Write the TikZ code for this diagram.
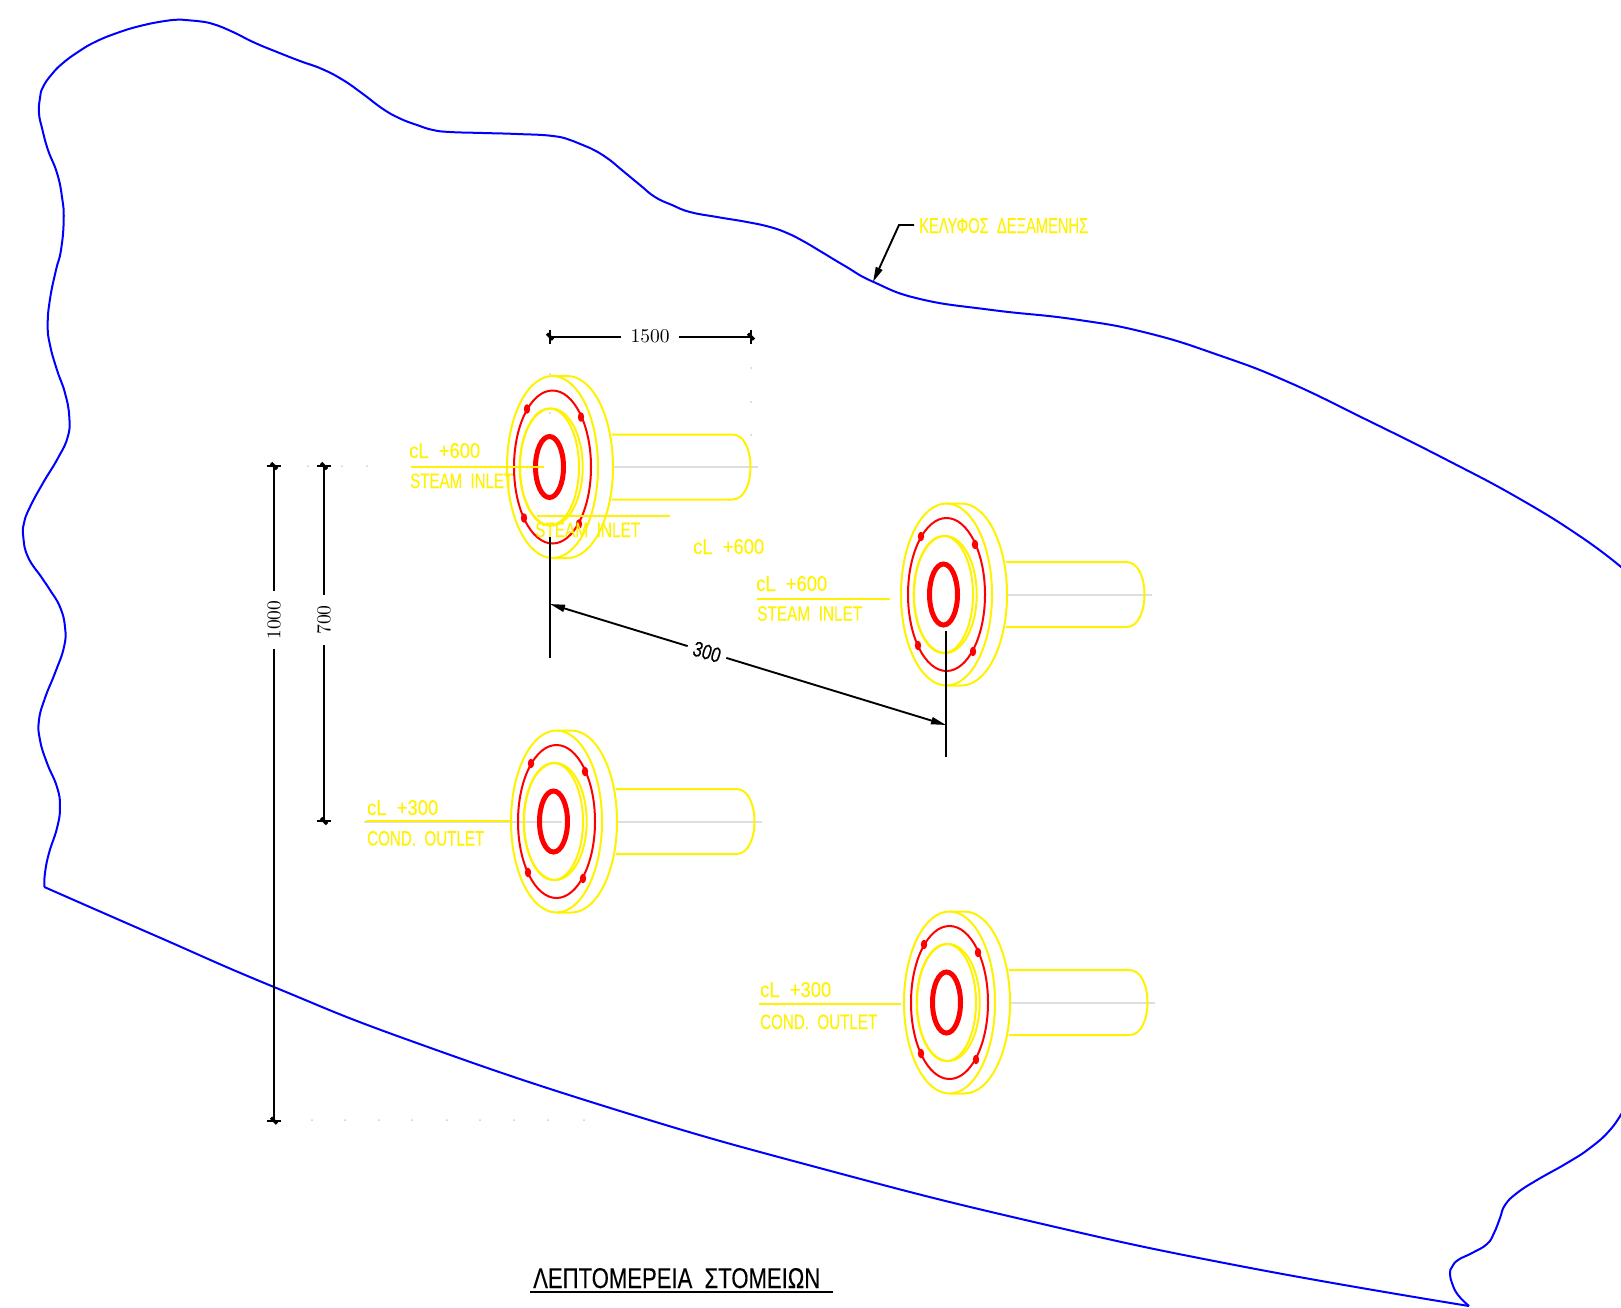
\documentclass[tikz,border=0pt]{standalone}
\usepackage{fontspec}
\usepackage{graphicx}
\usetikzlibrary{arrows.meta}
\newfontfamily\cadfont[FakeBold=0.25]{Liberation Sans}
\tikzset{
  cadyellow/.style={draw=yellow,line width=2pt},
  cadred/.style={draw=red,line width=2pt},
  cadredthick/.style={draw=red,line width=5pt},
  cadblue/.style={draw=blue,line width=2pt},
  cadblack/.style={draw=black,line width=1.9pt},
  cadaxis/.style={draw=black!13,line width=2pt},
  dimtext/.style={inner ysep=2pt},
  cadlabel/.style={anchor=base west,inner sep=0pt},
  dimarrow/.style={cadblack,-{Stealth[length=15pt,width=7pt,inset=0pt]}},
}
% name, x, baseline y, width, height, text, colour
\newcommand\cadtext[7]{\node[cadlabel,text=#7] (#1) at (#2,#3) {\resizebox{#4pt}{#5pt}{\cadfont #6}};}
\newcommand\dimlabel[2]{\resizebox{#1pt}{!}{\fontsize{10}{12}\selectfont #2}}
\newcommand\flange[2]{%
\begin{scope}[shift={(#1,#2)}]
  \draw[cadaxis] (60,0) -- (205,0);
  \draw[cadyellow] (0,0) ellipse [x radius=45.5,y radius=91];
  \draw[cadyellow] (0,-91) -- (15,-91) arc[start angle=-90,end angle=90,x radius=45.5,y radius=91] -- (0,91);
  \draw[cadyellow] (59.5,-32.5) -- (180,-32.5) .. controls (192,-32.5) and (198,-16) .. (198,0) .. controls (198,16) and (192,32.5) .. (180,32.5) -- (59.5,32.5);
  \draw[cadyellow] (-3,0) ellipse [x radius=29.5,y radius=58.5];
  \draw[cadyellow] (-1.3,0) ellipse [x radius=31.5,y radius=58.5];
  \draw[cadred] (0,0) ellipse [x radius=38.5,y radius=76.5];
  \draw[cadredthick] (-3,0) ellipse [x radius=14,y radius=30.5];
  \foreach \bx/\by in {-25.5/-58,28.5/-50,-28.5/51,26.5/57}
    \draw[draw=red,fill=red,line width=1pt] (\bx,\by) ellipse [x radius=2.6,y radius=4.2];
\end{scope}}
\newcommand\dtick[2]{%
  \draw[cadblack] (#1-7,#2) -- (#1+7,#2);
  \draw[draw=black,line width=3.2pt] (#1-3,#2-3) -- (#1+3,#2+3);}
\newcommand\vtick[2]{%
  \draw[cadblack] (#1,#2-7) -- (#1,#2+7);
  \draw[draw=black,line width=3.2pt] (#1-3,#2-3) -- (#1+3,#2+3);}
\begin{document}
\begin{tikzpicture}[x=1pt,y=-1pt]
\useasboundingbox (0,0) rectangle (1621,1307);
\clip (0,0) rectangle (1621,1307);
% faint construction dots
\foreach \dx/\dy in {308/466,342/466,367/466,312/1120,345/1120,379/1120,412/1120,447/1120,480/1120,514/1120,548/1120,584/1120,751/368,751/402,751/435,550/374,550/413}
  \fill[black!20] (\dx,\dy) circle [radius=1];
% tank shell
\draw[cadblue] plot[smooth,tension=.8] coordinates {(44.3,887)(45,873)(49,853)(57,828)(60,807)(57,787)(47,763)(40,740)(39,720)(45,698)(55,673)(64,647)(65,627)(60,607)(50,590)(42,578)(28,557)(23.3,537)(24,523)(30,507)(43,483)(58,458)(67.7,437)(69.3,417)(65,393)(57,370)(50,345)(47.7,325)(50,299)(56,270)(61,250)(63.7,220)(62,197)(57,173)(48,150)(42,128)(39,113)(40,98)(43,87)(52,74)(63,63)(78,52)(95,42)(117,33)(140,26)(165,21)(182,19.7)(197,21)(213,24)(233,32)(253,42)(277,52)(300,61)(322,69)(343,80)(363,94)(383,109)(400,118.5)(417,125)(433,130)(450,132)(483,133)(517,134)(553,136)(573,141)(590,148)(607,158)(623,171)(640,185)(655,197)(672,205)(690,212)(717,217)(747,222)(770,227)(787,233)(803,241)(820,251)(845,266)(873.6,282)(920,299)(992,310)(1075,319.4)(1147.5,333)(1220,355.6)(1287,381.5)(1365,419)(1447,460)(1520,499)(1582,537.6)(1623,568.6)};
\draw[cadblue] plot[smooth,tension=.8] coordinates {(1623,1111)(1610,1130)(1590,1148)(1567,1163)(1537,1180)(1517,1193)(1505,1205)(1500,1218)(1494,1233)(1487,1244)(1472,1253)(1458,1260)(1452,1267)(1450,1273)(1452,1283)(1458,1295)(1469,1306)};
\draw[cadblue] plot[smooth,tension=.8] coordinates {(44.3,887)(155,935.5)(274,987)(414,1042)(620,1111)(827,1170)(1034,1222)(1240,1266)(1469,1306)};
% nozzles
\draw[cadaxis] (364,822) -- (562,822);
\flange{552.5}{467}
\flange{946.5}{594.5}
\flange{556.5}{821.5}
\flange{949.5}{1002.5}
% nozzle labels
\coordinate (l1a) at (411,466.7); \coordinate (l1b) at (544,466.7);
\draw[cadyellow] (l1a) -- (l1b);
\cadtext{n1a}{409}{458}{71}{15}{cL\ \ +600}{yellow}
\cadtext{n1b}{410}{488}{103}{14.5}{STEAM\ \ INLET}{yellow}
\coordinate (l1c) at (537,516); \coordinate (l1d) at (670,516);
\draw[cadyellow] (l1c) -- (l1d);
\cadtext{n1c}{535}{537}{105}{14.5}{STEAM\ \ INLET}{yellow}
\cadtext{n1d}{693}{554}{71}{15}{cL\ \ +600}{yellow}
\coordinate (l2a) at (757,598.7); \coordinate (l2b) at (890,598.7);
\draw[cadyellow] (l2a) -- (l2b);
\cadtext{n2a}{756}{591}{71}{15}{cL\ \ +600}{yellow}
\cadtext{n2b}{757}{620.7}{105}{14.5}{STEAM\ \ INLET}{yellow}
\coordinate (l3a) at (366,820.7); \coordinate (l3b) at (511,820.7);
\draw[cadyellow] (l3a) -- (l3b);
\cadtext{n3a}{367}{815}{71}{15}{cL\ \ +300}{yellow}
\cadtext{n3b}{367}{845.5}{117}{14.5}{COND.\ \ OUTLET}{yellow}
\coordinate (l4a) at (759,1003.5); \coordinate (l4b) at (901,1003.5);
\draw[cadyellow] (l4a) -- (l4b);
\cadtext{n4a}{760}{997}{71}{15}{cL\ \ +300}{yellow}
\cadtext{n4b}{760}{1029}{117}{14.5}{COND.\ \ OUTLET}{yellow}
% shell leader
\cadtext{shell}{919}{233}{169}{15}{ΚΕΛΥΦΟΣ\ \ ΔΕΞΑΜΕΝΗΣ}{yellow}
\coordinate (s1) at (914,225); \coordinate (s2) at (899,225); \coordinate (s3) at (873,282);
\draw[dimarrow] (s1) -- (s2) -- (s3);
% title
\cadtext{title}{533}{1288}{287}{20}{ΛΕΠΤΟΜΕΡΕΙΑ\ \ ΣΤΟΜΕΙΩΝ}{black}
\coordinate (u1) at (530,1291.7); \coordinate (u2) at (833,1291.7);
\draw[cadblack] (u1) -- (u2);
% dimension 1500
\coordinate (a1) at (550,336.7); \coordinate (a2) at (751,336.7);
\node[dimtext,inner xsep=9.6pt] (t1500) at (650,336.7) {\dimlabel{39}{1500}};
\draw[cadblack] (a1) -- (t1500.west);
\draw[cadblack] (t1500.east) -- (a2);
\vtick{550}{336.7}
\vtick{751}{336.7}
% dimension 1000
\coordinate (b1) at (274,466); \coordinate (b2) at (274,1120.7);
\node[dimtext,rotate=90,inner xsep=9.5pt] (t1000) at (274,620) {\dimlabel{39}{1000}};
\draw[cadblack] (b1) -- (t1000.east);
\draw[cadblack] (t1000.west) -- (b2);
\dtick{274}{466}
\dtick{274}{1120.7}
% dimension 700
\coordinate (c1) at (324,466); \coordinate (c2) at (324,821);
\node[dimtext,rotate=90,inner xsep=10.5pt] (t700) at (324,620) {\dimlabel{29.5}{700}};
\draw[cadblack] (c1) -- (t700.east);
\draw[cadblack] (t700.west) -- (c2);
\dtick{324}{466}
\dtick{324}{821}
% dimension 300
\coordinate (e1) at (550,537); \coordinate (e2) at (550,657.7);
\coordinate (f1) at (946,631); \coordinate (f2) at (946,757);
\draw[cadblack] (e1) -- (e2);
\draw[cadblack] (f1) -- (f2);
\coordinate (g1) at (550,604); \coordinate (g2) at (946,725);
\node[rotate=-17,inner sep=1pt,inner xsep=6pt] (t300) at (707,652) {\resizebox{28pt}{15pt}{\cadfont 300}};
\draw[dimarrow] (t300) -- (g1);
\draw[dimarrow] (t300) -- (g2);
\end{tikzpicture}
\end{document}
